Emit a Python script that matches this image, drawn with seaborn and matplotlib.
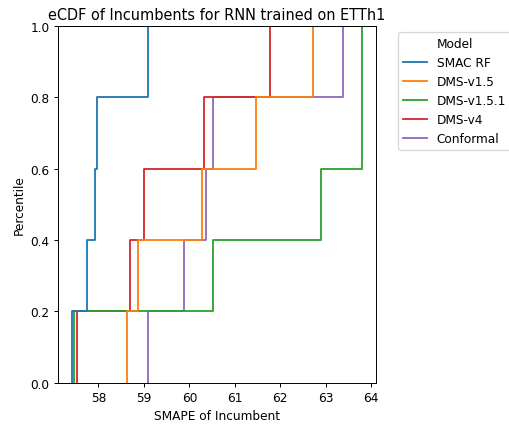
import matplotlib
matplotlib.use("Agg")
import matplotlib.pyplot as plt
import seaborn as sns
import pandas as pd

# SMAPE of the incumbent configuration found in each of five runs
models = ["SMAC RF", "DMS-v1.5", "DMS-v1.5.1", "DMS-v4", "Conformal"]
smac_rf = [57.43, 57.76, 57.92, 57.96, 59.08]
dms_v15 = [58.62, 58.88, 60.27, 61.46, 62.71]
dms_v151 = [57.46, 60.53, 62.89, 63.79, 63.79]
dms_v4 = [57.54, 58.70, 59.00, 60.33, 61.77]
conformal = [59.08, 59.89, 60.36, 60.51, 63.38]

series = [smac_rf, dms_v15, dms_v151, dms_v4, conformal]
df = pd.DataFrame({
    "SMAPE of Incumbent": [v for s in series for v in s],
    "Model": [m for m, s in zip(models, series) for _ in s],
})

dpi = 87
fig, ax = plt.subplots(figsize=(509 / dpi, 426 / dpi), dpi=dpi)
fig.subplots_adjust(left=0.114, right=0.739, top=0.937, bottom=0.099)

sns.ecdfplot(data=df, x="SMAPE of Incumbent", hue="Model", hue_order=models, ax=ax)
ax.set_ylabel("Percentile")
ax.set_title("eCDF of Incumbents for RNN trained on ETTh1")
ax.set_ylim(0, 1)
ax.set_yticks([0.0, 0.2, 0.4, 0.6, 0.8, 1.0])
ax.set_yticklabels(["0.0", "0.2", "0.4", "0.6", "0.8", "1.0"])

sns.move_legend(ax, "upper left", bbox_to_anchor=(1.05, 1))

fig.savefig("out.png", dpi=dpi)
